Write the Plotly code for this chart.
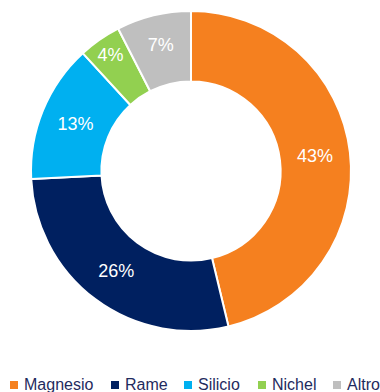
import plotly.graph_objects as go

# Composition shares by metal
labels = ["Magnesio", "Rame", "Silicio", "Nichel", "Altro"]
shares = [43, 26, 13, 4, 7]
colors = ["#F5801F", "#002060", "#00B0F0", "#92D050", "#BFBFBF"]

W, H = 380, 392
FONT = "Liberation Sans, Arial"

fig = go.Figure(
    go.Pie(
        labels=labels,
        values=shares,
        hole=0.56,
        sort=False,
        direction="clockwise",
        rotation=0,
        marker=dict(colors=colors, line=dict(color="white", width=2)),
        texttemplate="%{value}%",
        textposition="inside",
        insidetextorientation="horizontal",
        textfont=dict(family=FONT, size=18, color="white"),
        domain=dict(x=[31 / W, 351 / W], y=[61 / H, 381 / H]),
        hoverinfo="label+value",
        showlegend=False,
    )
)

# Legend row along the bottom: square swatch followed by the label
swatch_left = [10, 111, 184, 258, 333]
swatch_size = 8
text_gap = 6
legend_mid_y = 384

shapes = []
annotations = []
for name, col, x0 in zip(labels, colors, swatch_left):
    shapes.append(
        dict(
            type="rect",
            xref="paper",
            yref="paper",
            x0=x0 / W,
            x1=(x0 + swatch_size) / W,
            y0=(H - legend_mid_y - swatch_size / 2 - 1) / H,
            y1=(H - legend_mid_y + swatch_size / 2 - 1) / H,
            fillcolor=col,
            line=dict(width=0),
        )
    )
    annotations.append(
        dict(
            text=name,
            xref="paper",
            yref="paper",
            x=(x0 + swatch_size + text_gap - 2) / W,
            y=(H - legend_mid_y) / H,
            xanchor="left",
            yanchor="middle",
            showarrow=False,
            font=dict(family=FONT, size=16, color="#1F2B5E"),
        )
    )

fig.update_layout(
    width=W,
    height=H,
    margin=dict(l=0, r=0, t=0, b=0),
    paper_bgcolor="white",
    plot_bgcolor="white",
    shapes=shapes,
    annotations=annotations,
)

fig.write_html("out.html")
